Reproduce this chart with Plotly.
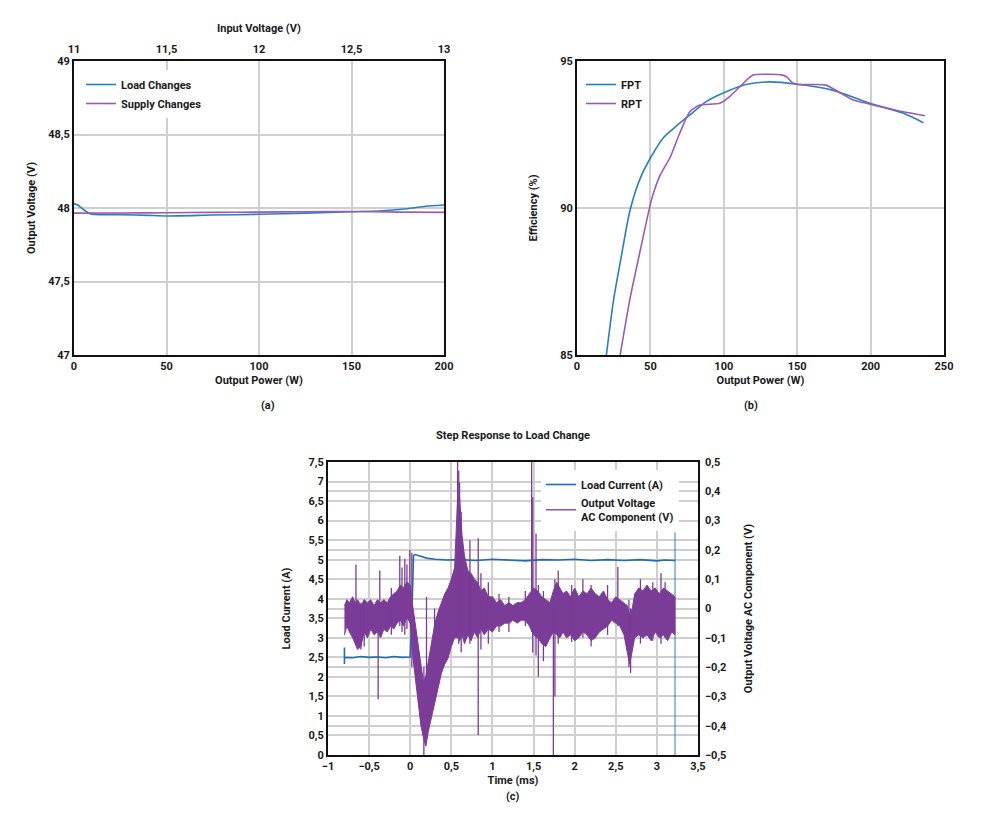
import plotly.graph_objects as go

W, H = 985, 823

# ---------------- Panel (a) data ----------------
load_power_w = [0, 2, 5, 9, 15, 25, 40, 50, 75, 100, 125, 150, 165, 180, 190, 200]
load_vout = [48.03, 48.02, 47.99, 47.96, 47.955, 47.955, 47.95, 47.946, 47.952, 47.957,
             47.965, 47.975, 47.98, 47.995, 48.012, 48.02]
supply_vin = [11.0, 11.25, 11.5, 11.75, 12.0, 12.25, 12.5, 12.75, 13.0]
supply_vout = [47.965, 47.966, 47.968, 47.97, 47.972, 47.975, 47.976, 47.972, 47.97]

# ---------------- Panel (b) data ----------------
fpt_w = [20, 25, 30, 36, 43, 50, 59, 68, 77, 88, 100, 115, 131, 149, 174, 199, 222, 236]
fpt_eff = [85.0, 86.9, 88.3, 89.9, 91.0, 91.7, 92.4, 92.8, 93.17, 93.62, 93.92, 94.2,
           94.29, 94.22, 94.01, 93.57, 93.23, 92.9]
rpt_w = [29.4, 36.2, 43.4, 50.9, 56.5, 63.3, 70.1, 76.9, 83.7, 97.3, 104, 110.8, 119.8,
         128.9, 140, 143, 147, 150, 160.5, 169.6, 187.7, 199, 221.6, 237]
rpt_eff = [85.0, 86.94, 88.63, 90.31, 91.1, 91.71, 92.56, 93.28, 93.5, 93.56, 93.79, 94.12,
           94.52, 94.55, 94.52, 94.45, 94.25, 94.2, 94.2, 94.18, 93.68, 93.54, 93.28, 93.14]

# ---------------- Panel (c) data ----------------
load_t = [-0.80, -0.80, -0.80, -0.70, -0.60, -0.50, -0.40, -0.30, -0.20, -0.10, 0.00, 0.02,
          0.04, 0.06, 0.10, 0.15, 0.20, 0.30, 0.45, 0.60, 0.80, 1.00, 1.20, 1.40, 1.60,
          1.80, 2.00, 2.20, 2.40, 2.60, 2.80, 3.00, 3.10, 3.20, 3.22]
load_a = [2.75, 2.33, 2.50, 2.49, 2.52, 2.50, 2.51, 2.49, 2.52, 2.50, 2.51, 3.60,
          5.10, 5.13, 5.10, 5.07, 5.04, 5.01, 4.99, 5.00, 4.98, 5.01, 4.99, 4.97, 5.00,
          4.99, 5.01, 4.98, 5.00, 4.98, 5.00, 4.97, 4.99, 4.97, 4.98]
load_end_t = [3.22, 3.22]
load_end_a = [0.0, 5.7]

band_t = [-0.80, -0.77, -0.74, -0.70, -0.67, -0.64, -0.60, -0.56, -0.52, -0.48, -0.44,
          -0.40, -0.36, -0.32, -0.28, -0.24, -0.20, -0.16, -0.12, -0.08, -0.04, 0.00,
          0.03, 0.07, 0.10, 0.13, 0.16, 0.19, 0.22, 0.26, 0.30, 0.34, 0.38, 0.42, 0.46,
          0.50, 0.54, 0.58, 0.60, 0.63, 0.66, 0.70, 0.74, 0.78, 0.82, 0.86, 0.90, 0.95,
          1.00, 1.05, 1.10, 1.15, 1.20, 1.25, 1.30, 1.35, 1.40, 1.45, 1.50, 1.55, 1.60,
          1.65, 1.70, 1.74, 1.78, 1.82, 1.86, 1.90, 1.95, 2.00, 2.05, 2.10, 2.15, 2.20,
          2.25, 2.30, 2.35, 2.40, 2.45, 2.50, 2.55, 2.60, 2.64, 2.67, 2.70, 2.73, 2.78,
          2.83, 2.88, 2.93, 2.98, 3.03, 3.08, 3.13, 3.18, 3.22]
band_hi = [0.01, 0.03, 0.02, 0.04, 0.02, 0.03, 0.01, 0.03, 0.02, 0.03, 0.01,
           0.03, 0.02, 0.03, 0.02, 0.04, 0.05, 0.06, 0.08, 0.07, 0.09, 0.08,
           0.01, -0.07, -0.13, -0.20, -0.25, -0.23, -0.18, -0.12, -0.05, -0.01, 0.02,
           0.05, 0.07, 0.10, 0.14, 0.40, 0.38, 0.25, 0.18, 0.13, 0.12, 0.10, 0.09,
           0.06, 0.07, 0.04, 0.04, 0.02, 0.03, 0.01, 0.02, 0.01, 0.02, 0.02, 0.03,
           0.05, 0.07, 0.06, 0.04, 0.03, 0.02, 0.06, 0.09, 0.07, 0.05, 0.06, 0.04,
           0.07, 0.04, 0.06, 0.05, 0.07, 0.05, 0.04, 0.06, 0.03, 0.02, 0.04, 0.03,
           0.02, 0.01, -0.02, 0.00, 0.05, 0.07, 0.06, 0.08, 0.06, 0.07, 0.05, 0.07,
           0.06, 0.05, 0.04]
band_lo = [-0.09, -0.06, -0.08, -0.10, -0.12, -0.14, -0.13, -0.08, -0.10, -0.07, -0.09,
           -0.08, -0.10, -0.07, -0.08, -0.06, -0.07, -0.05, -0.04, -0.06, -0.03, -0.05,
           -0.16, -0.27, -0.33, -0.40, -0.44, -0.47, -0.42, -0.37, -0.32, -0.27, -0.22,
           -0.19, -0.17, -0.13, -0.10, -0.10, -0.11, -0.09, -0.12, -0.09, -0.11, -0.08,
           -0.10, -0.07, -0.09, -0.07, -0.08, -0.06, -0.06, -0.05, -0.05, -0.04, -0.05,
           -0.04, -0.04, -0.06, -0.09, -0.10, -0.12, -0.13, -0.10, -0.08, -0.09, -0.10,
           -0.08, -0.10, -0.09, -0.11, -0.10, -0.08, -0.09, -0.11, -0.10, -0.08, -0.07,
           -0.06, -0.04, -0.05, -0.06, -0.09, -0.15, -0.19, -0.15, -0.10, -0.09, -0.10,
           -0.09, -0.11, -0.08, -0.10, -0.09, -0.11, -0.08, -0.09]

spike_t = [-0.66, -0.60, -0.56, -0.39, -0.37, -0.23, -0.127, -0.10, -0.066, -0.04, -0.005,
           0.02, 0.166, 0.198, 0.296, 0.576, 0.59, 0.60, 0.62, 0.726, 0.827, 0.86, 0.95,
           1.08, 1.20, 1.40, 1.477, 1.49, 1.53, 1.558, 1.62, 1.741, 1.76, 1.80, 1.964,
           2.10, 2.20, 2.40, 2.525, 2.66, 2.68, 2.80, 2.95, 3.05, 3.10]
spike_lo = [-0.12, -0.14, -0.13, -0.31, -0.05, -0.09, -0.06, -0.08, -0.09, -0.07, -0.05,
            -0.20, -0.50, -0.40, -0.30, -0.10, -0.12, -0.10, -0.15, -0.12, -0.432, -0.14, -0.12,
            -0.08, -0.08, -0.06, -0.08, -0.15, -0.16, -0.233, -0.18, -0.50, -0.30, -0.12, -0.114,
            -0.10, -0.13, -0.09, -0.06, -0.20, -0.22, -0.12, -0.11, -0.12, -0.10]
spike_hi = [0.15, 0.02, 0.03, 0.02, 0.13, 0.07, 0.18, 0.14, 0.17, 0.15, 0.20,
            0.19, -0.20, 0.04, 0.00, 0.50, 0.47, 0.43, 0.33, 0.233, 0.24, 0.12, 0.09,
            0.05, 0.04, 0.06, 0.50, 0.38, 0.256, 0.08, 0.06, 0.02, 0.10, 0.13, 0.08,
            0.10, 0.08, 0.08, 0.142, 0.03, 0.00, 0.10, 0.09, 0.12, 0.09]

# ---------------- styling ----------------
BLUE_A = "#2b7fc1"
PURPLE_A = "#9a5bb0"
BLUE_C = "#1f6db3"
PURPLE_C = "#7b3c98"
GRID = "#cfcfcf"
FONT = dict(family="Roboto, 'DejaVu Sans', sans-serif", size=11, color="#1a1a1a",
            weight="bold")


def px_x(x0, x1):
    return [x0 / W, x1 / W]


def px_y(top, bottom):
    return [1 - bottom / H, 1 - top / H]


fig = go.Figure()

# Panel (a)
fig.add_trace(go.Scatter(x=load_power_w, y=load_vout, mode="lines", name="Load Changes",
                         line=dict(color=BLUE_A, width=1.6, shape="spline", smoothing=0.6),
                         xaxis="x", yaxis="y", legend="legend"))
fig.add_trace(go.Scatter(x=supply_vin, y=supply_vout, mode="lines", name="Supply Changes",
                         line=dict(color=PURPLE_A, width=1.6, shape="spline", smoothing=0.6),
                         xaxis="x2", yaxis="y", legend="legend"))

# Panel (b)
fig.add_trace(go.Scatter(x=fpt_w, y=fpt_eff, mode="lines", name="FPT",
                         line=dict(color=BLUE_A, width=1.6, shape="spline", smoothing=0.7),
                         xaxis="x3", yaxis="y3", legend="legend2"))
fig.add_trace(go.Scatter(x=rpt_w, y=rpt_eff, mode="lines", name="RPT",
                         line=dict(color=PURPLE_A, width=1.6, shape="spline", smoothing=0.6),
                         xaxis="x3", yaxis="y3", legend="legend2"))

# Panel (c)
fig.add_trace(go.Scatter(x=load_t, y=load_a, mode="lines", name="Load Current (A)",
                         line=dict(color=BLUE_C, width=1.6),
                         xaxis="x4", yaxis="y4", legend="legend3"))
fig.add_trace(go.Scatter(x=load_end_t, y=load_end_a, mode="lines", showlegend=False,
                         line=dict(color="rgba(31,109,179,0.45)", width=2),
                         xaxis="x4", yaxis="y4", hoverinfo="skip"))

# Output voltage AC component: dense noise band drawn as a closed envelope polygon
poly_t = band_t + band_t[::-1]
poly_v = band_hi + band_lo[::-1]
fig.add_trace(go.Scatter(x=poly_t, y=poly_v, mode="lines", fill="toself",
                         fillcolor=PURPLE_C, showlegend=False,
                         line=dict(color=PURPLE_C, width=1),
                         xaxis="x4", yaxis="y5", hoverinfo="skip"))
sx, sy = [], []
for t, lo, hi in zip(spike_t, spike_lo, spike_hi):
    sx += [t, t, None]
    sy += [lo, hi, None]
fig.add_trace(go.Scatter(x=sx, y=sy, mode="lines", name="Output Voltage<br>AC Component (V)",
                         line=dict(color=PURPLE_C, width=1.3), legend="legend3",
                         xaxis="x4", yaxis="y5", hoverinfo="skip"))

axis_common = dict(showline=True, linecolor="#111111", linewidth=2, ticks="",
                   showgrid=True, gridcolor=GRID, gridwidth=1.5, zeroline=False,
                   automargin=False, tickfont=FONT, title_font=FONT)

legend_common = dict(xanchor="left", yanchor="top", bgcolor="white", font=FONT,
                     itemwidth=30, tracegroupgap=0, traceorder="normal")

fig.update_layout(
    width=W, height=H, margin=dict(l=0, r=0, t=0, b=0),
    paper_bgcolor="white", plot_bgcolor="white",
    font=FONT, separators=", ",
    xaxis=dict(axis_common, domain=px_x(74, 444), anchor="y", range=[0, 200], dtick=50,
               mirror=True, title=dict(text="Output Power (W)", standoff=4)),
    xaxis2=dict(axis_common, overlaying="x", side="top", anchor="y", range=[11, 13],
                dtick=0.5, showgrid=False, showline=False, ticklabelstandoff=5,
                title=dict(text="Input Voltage (V)", standoff=7)),
    yaxis=dict(axis_common, domain=px_y(61, 355), anchor="x", range=[47, 49], dtick=0.5,
               mirror=True, title=dict(text="Output Voltage (V)", standoff=10)),
    xaxis3=dict(axis_common, domain=px_x(577, 944), anchor="y3", range=[0, 250], dtick=50,
                mirror=True, title=dict(text="Output Power (W)", standoff=4)),
    yaxis3=dict(axis_common, domain=px_y(61, 355), anchor="x3", range=[85, 95], dtick=5,
                mirror=True, title=dict(text="Efficiency (%)", standoff=20)),
    xaxis4=dict(axis_common, domain=px_x(328, 698), anchor="y4", range=[-1, 3.5], dtick=0.5,
                mirror=True, title=dict(text="Time (ms)", standoff=4)),
    yaxis4=dict(axis_common, domain=px_y(462, 755), anchor="x4", range=[0, 7.5], dtick=0.5,
                mirror=True, title=dict(text="Load Current (A)", standoff=16)),
    yaxis5=dict(axis_common, overlaying="y4", side="right", anchor="x4", range=[-0.5, 0.5],
                dtick=0.1, showline=False, ticklabelstandoff=6,
                title=dict(text="Output Voltage AC Component (V)", standoff=18)),
    legend=dict(legend_common, x=81 / W, y=1 - 70 / H),
    legend2=dict(legend_common, x=581 / W, y=1 - 70 / H),
    legend3=dict(legend_common, x=541 / W, y=1 - 470 / H),
    annotations=[
        dict(text="(a)", x=259 / W, y=1 - 406 / H, xref="paper", yref="paper",
             showarrow=False, font=FONT),
        dict(text="(b)", x=760 / W, y=1 - 406 / H, xref="paper", yref="paper",
             showarrow=False, font=FONT),
        dict(text="(c)", x=513 / W, y=1 - 805 / H, xref="paper", yref="paper",
             showarrow=False, font=FONT),
        dict(text="Step Response to Load Change", x=513 / W, y=1 - 436 / H, xref="paper",
             yref="paper", showarrow=False, font=FONT),
    ],
)

fig.write_html("out.html")
